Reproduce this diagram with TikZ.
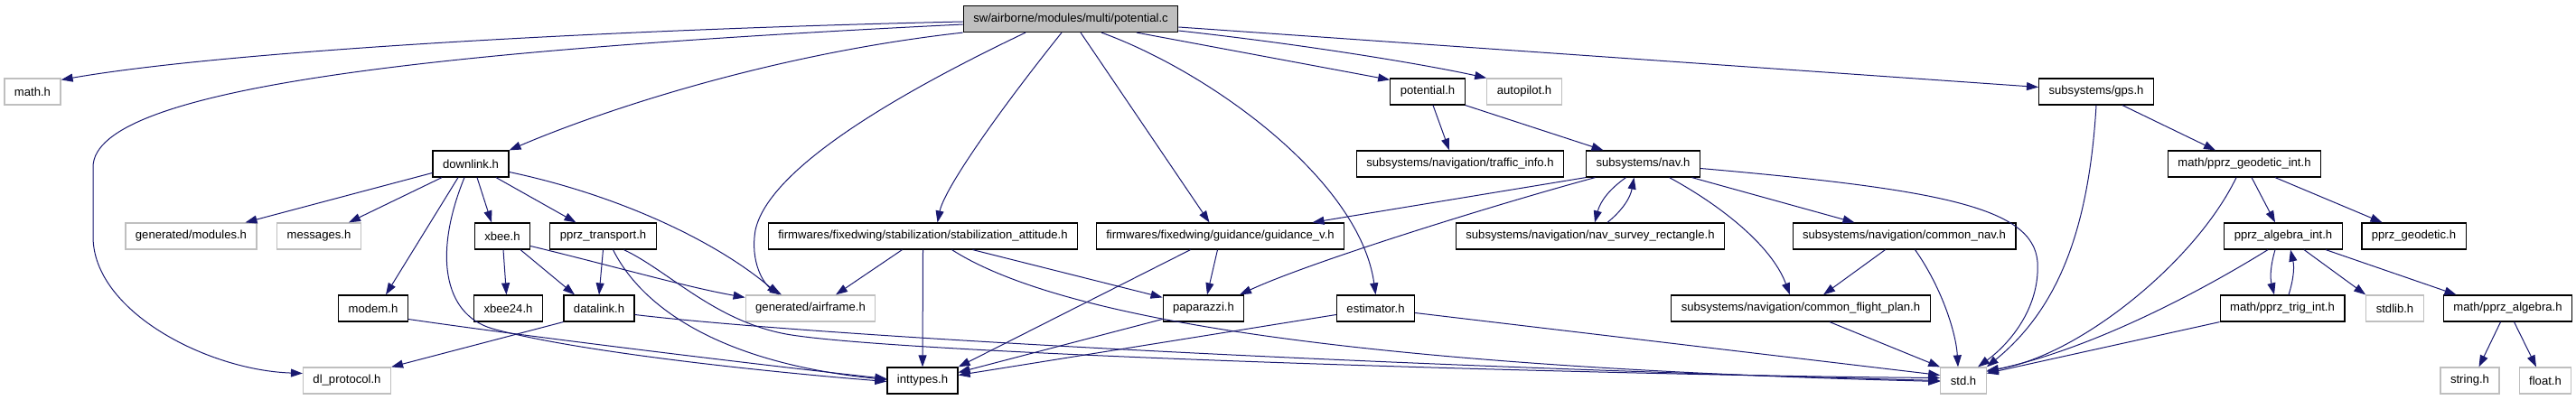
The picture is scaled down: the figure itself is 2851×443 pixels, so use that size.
\documentclass[tikz,border=0pt]{standalone}
\usepackage{fontspec}
\setmainfont{Liberation Sans}
\usepackage{tikz}
\usetikzlibrary{arrows.meta,calc}
\definecolor{edgeblue}{RGB}{25,25,112}
\definecolor{extgray}{RGB}{191,191,191}

\begin{document}
\begin{tikzpicture}[
  x=1pt,
  y=-1pt,
  >={Triangle[length=13pt,width=9pt]},
  header/.style={draw=black, line width=1.2pt, fill=white, minimum height=29pt, inner xsep=11pt, inner ysep=0pt, font=\fontsize{13.1}{15}\selectfont},
  outside/.style={header, draw=extgray},
  source/.style={header, fill=extgray},
  dep/.style={->, draw=edgeblue, line width=1pt}
]
  \useasboundingbox (0,0) rectangle (2851,443);

  \node[source] (potential) at (1185,21) {sw/airborne/modules/multi/potential.c};

  \node[outside] (mathh) at (36,101.5) {math.h};
  \node[header] (potentialh) at (1580,101.5) {potential.h};
  \node[outside] (autopilot) at (1687,101.5) {autopilot.h};
  \node[header] (gps) at (2320,101.5) {subsystems/gps.h};

  \node[header] (downlink) at (521,181.5) {downlink.h};
  \node[header] (traffic) at (1616,181.5) {subsystems/navigation/traffic\_info.h};
  \node[header] (nav) at (1818.5,181.5) {subsystems/nav.h};
  \node[header] (geodeticint) at (2484,181.5) {math/pprz\_geodetic\_int.h};

  \node[outside] (modules) at (211.5,261.5) {generated/modules.h};
  \node[outside] (messages) at (353,261.5) {messages.h};
  \node[header] (xbee) at (556,261.5) {xbee.h};
  \node[header] (transport) at (667.5,261.5) {pprz\_transport.h};
  \node[header] (stabilization) at (1021.5,261.5) {firmwares/fixedwing/stabilization/stabilization\_attitude.h};
  \node[header] (guidance) at (1350.5,261.5) {firmwares/fixedwing/guidance/guidance\_v.h};
  \node[header] (survey) at (1760,261.5) {subsystems/navigation/nav\_survey\_rectangle.h};
  \node[header] (commonnav) at (2107.5,261.5) {subsystems/navigation/common\_nav.h};
  \node[header] (algebraint) at (2527,261.5) {pprz\_algebra\_int.h};
  \node[header] (geodetic) at (2671.5,261.5) {pprz\_geodetic.h};

  \node[header] (modem) at (413,341.5) {modem.h};
  \node[header] (xbeetwo) at (562.5,341.5) {xbee24.h};
  \node[header] (datalink) at (663,341.5) {datalink.h};
  \node[outside] (airframe) at (897,341.5) {generated/airframe.h};
  \node[header] (paparazzi) at (1332,341.5) {paparazzi.h};
  \node[header] (estimator) at (1522.5,341.5) {estimator.h};
  \node[header] (flightplan) at (1993,341.5) {subsystems/navigation/common\_flight\_plan.h};
  \node[header] (trigint) at (2526,341.5) {math/pprz\_trig\_int.h};
  \node[outside] (stdlib) at (2650.5,341.5) {stdlib.h};
  \node[header] (algebra) at (2775.5,341.5) {math/pprz\_algebra.h};

  \node[outside] (protocol) at (384,421.5) {dl\_protocol.h};
  \node[header] (inttypes) at (1021,421.5) {inttypes.h};
  \node[outside] (std) at (2173,421.5) {std.h};
  \node[outside] (string) at (2733.5,421.5) {string.h};
  \node[outside] (float) at (2817,421.5) {float.h};

  \draw[dep] ([yshift=-3pt]potential.west) .. controls (700,32) and (260,55) .. ([yshift=-2pt]mathh.north east);
  \draw[dep] ([yshift=-6pt]potential.west) .. controls (500,55) and (103,95) .. (103,185) -- (103,262) .. controls (103,345) and (230,410) .. ([yshift=8pt]protocol.west);
  \draw[dep] (potential.south west) .. controls (850,60) and (660,125) .. (downlink.north east);
  \draw[dep] ([xshift=-50pt]potential.south) .. controls (980,110) and (850,190) .. (836,255) .. controls (830,290) and (845,315) .. ([xshift=-32pt]airframe.north);
  \draw[dep] ([xshift=-10pt]potential.south) .. controls (1100,130) and (1045,210) .. ([xshift=16pt]stabilization.north);
  \draw[dep] ([xshift=11pt]potential.south) -- ([xshift=-12pt]guidance.north);
  \draw[dep] ([xshift=34pt]potential.south) .. controls (1340,80) and (1505,200) .. (estimator.north);
  \draw[dep] ([xshift=73pt]potential.south) -- ([yshift=-2pt]potentialh.north west);
  \draw[dep] ([yshift=-13pt]potential.east) .. controls (1450,50) and (1580,72) .. (autopilot.north west);
  \draw[dep] ([yshift=-9pt]potential.east) -- ([yshift=5pt]gps.west);

  \draw[dep] ([xshift=6pt]potentialh.south) -- ([xshift=-12pt]traffic.north);
  \draw[dep] (potentialh.south east) -- ([xshift=-44pt]nav.north);

  \draw[dep] ([xshift=29pt]gps.south) -- ([xshift=-32pt]geodeticint.north);
  \draw[dep] (gps.south) .. controls (2312,250) and (2280,340) .. (std.north east);

  \draw[dep] (nav.south west) -- ([xshift=102pt]guidance.north);
  \draw[dep] ([xshift=-53pt]nav.south) .. controls (1660,225) and (1450,290) .. ([xshift=40pt]paparazzi.north);
  \draw[dep] ([xshift=-19pt]nav.south) to[bend right=20] ([xshift=5pt]survey.north);
  \draw[dep] ([xshift=19pt]survey.north) to[bend right=20] ([xshift=-10pt]nav.south);
  \draw[dep] ([xshift=29pt]nav.south) .. controls (1900,225) and (1960,270) .. ([xshift=-12pt]flightplan.north);
  \draw[dep] ([xshift=54pt]nav.south) -- ([xshift=-55pt]commonnav.north);
  \draw[dep] ([yshift=-5pt]nav.east) .. controls (2150,210) and (2250,230) .. (2255,290) .. controls (2258,340) and (2225,380) .. ([xshift=16pt]std.north);

  \draw[dep] ([xshift=-21pt]commonnav.south) -- ([xshift=25pt]flightplan.north);
  \draw[dep] ([xshift=12pt]commonnav.south) .. controls (2150,320) and (2165,370) .. ([xshift=-6pt]std.north);
  \draw[dep] ([xshift=32pt]flightplan.south) -- (std.north west);

  \draw[dep] ([xshift=8pt]geodeticint.south) -- ([xshift=-9pt]algebraint.north);
  \draw[dep] ([xshift=34pt]geodeticint.south) -- ([xshift=-35pt]geodetic.north);
  \draw[dep] ([xshift=-9pt]geodeticint.south) .. controls (2430,290) and (2300,395) .. ([yshift=11pt]std.east);

  \draw[dep] ([xshift=-9pt]algebraint.south) to[bend right=15] ([xshift=-9pt]trigint.north);
  \draw[dep] ([xshift=7pt]trigint.north) to[bend right=15] ([xshift=8pt]algebraint.south);
  \draw[dep] ([xshift=23pt]algebraint.south) -- (stdlib.north west);
  \draw[dep] ([xshift=47pt]algebraint.south) -- ([xshift=-57pt]algebra.north);
  \draw[dep] ([xshift=-17pt]algebraint.south) .. controls (2440,320) and (2320,385) .. ([yshift=10pt]std.east);
  \draw[dep] (trigint.south west) -- ([yshift=8pt]std.east);
  \draw[dep] ([xshift=-8pt]algebra.south) -- ([xshift=10pt]string.north);
  \draw[dep] ([xshift=7pt]algebra.south) -- ([xshift=-10pt]float.north);

  \draw[dep] ([yshift=-10pt]downlink.west) -- ([xshift=60pt]modules.north);
  \draw[dep] ([xshift=-32pt]downlink.south) -- ([xshift=33pt]messages.north);
  \draw[dep] ([xshift=-14pt]downlink.south) -- ([xshift=14pt]modem.north);
  \draw[dep] ([xshift=-7pt]downlink.south) .. controls (480,280) and (490,348) .. (545,364) .. controls (640,390) and (850,412) .. ([yshift=-1pt]inttypes.west);
  \draw[dep] ([xshift=7pt]downlink.south) -- ([xshift=-12pt]xbee.north);
  \draw[dep] ([xshift=28pt]downlink.south) -- ([xshift=-30pt]transport.north);
  \draw[dep] ([yshift=-9pt]downlink.east) .. controls (680,215) and (790,265) .. ([xshift=-35pt]airframe.north);

  \draw[dep] ([xshift=1pt]xbee.south) -- ([xshift=-2pt]xbeetwo.north);
  \draw[dep] ([xshift=20pt]xbee.south) -- ([xshift=-27pt]datalink.north);
  \draw[dep] ([yshift=-11pt]xbee.east) .. controls (680,295) and (760,318) .. ([yshift=-3pt]airframe.north west);

  \draw[dep] (transport.south) -- (datalink.north);
  \draw[dep] ([xshift=11pt]transport.south) .. controls (705,330) and (780,400) .. ([yshift=1pt]inttypes.west);
  \draw[dep] ([xshift=23pt]transport.south) .. controls (740,300) and (790,355) .. (870,370) .. controls (1000,393) and (1800,416) .. ([yshift=3pt]std.west);

  \draw[dep] (datalink.south west) -- (protocol.north east);
  \draw[dep] ([yshift=-7pt]datalink.east) .. controls (900,372) and (1500,405) .. (std.west);
  \draw[dep] ([yshift=-12pt]modem.east) .. controls (600,375) and (850,405) .. ([yshift=2pt]inttypes.west);

  \draw[dep] ([xshift=-23pt]stabilization.south) -- ([xshift=28pt]airframe.north);
  \draw[dep] (stabilization.south) -- (inttypes.north);
  \draw[dep] ([xshift=55pt]stabilization.south) -- ([yshift=-3pt]paparazzi.north west);
  \draw[dep] ([xshift=32pt]stabilization.south) .. controls (1160,345) and (1450,405) .. ([yshift=-1pt]std.west);

  \draw[dep] ([xshift=-3pt]guidance.south) -- ([xshift=4pt]paparazzi.north);
  \draw[dep] ([xshift=-33pt]guidance.south) -- (inttypes.north east);
  \draw[dep] ([yshift=-12pt]paparazzi.west) -- ([yshift=9pt]inttypes.east);
  \draw[dep] ([yshift=-7pt]estimator.west) -- ([yshift=6pt]inttypes.east);
  \draw[dep] ([yshift=-5pt]estimator.east) -- ([yshift=6pt]std.west);
\end{tikzpicture}
\end{document}
